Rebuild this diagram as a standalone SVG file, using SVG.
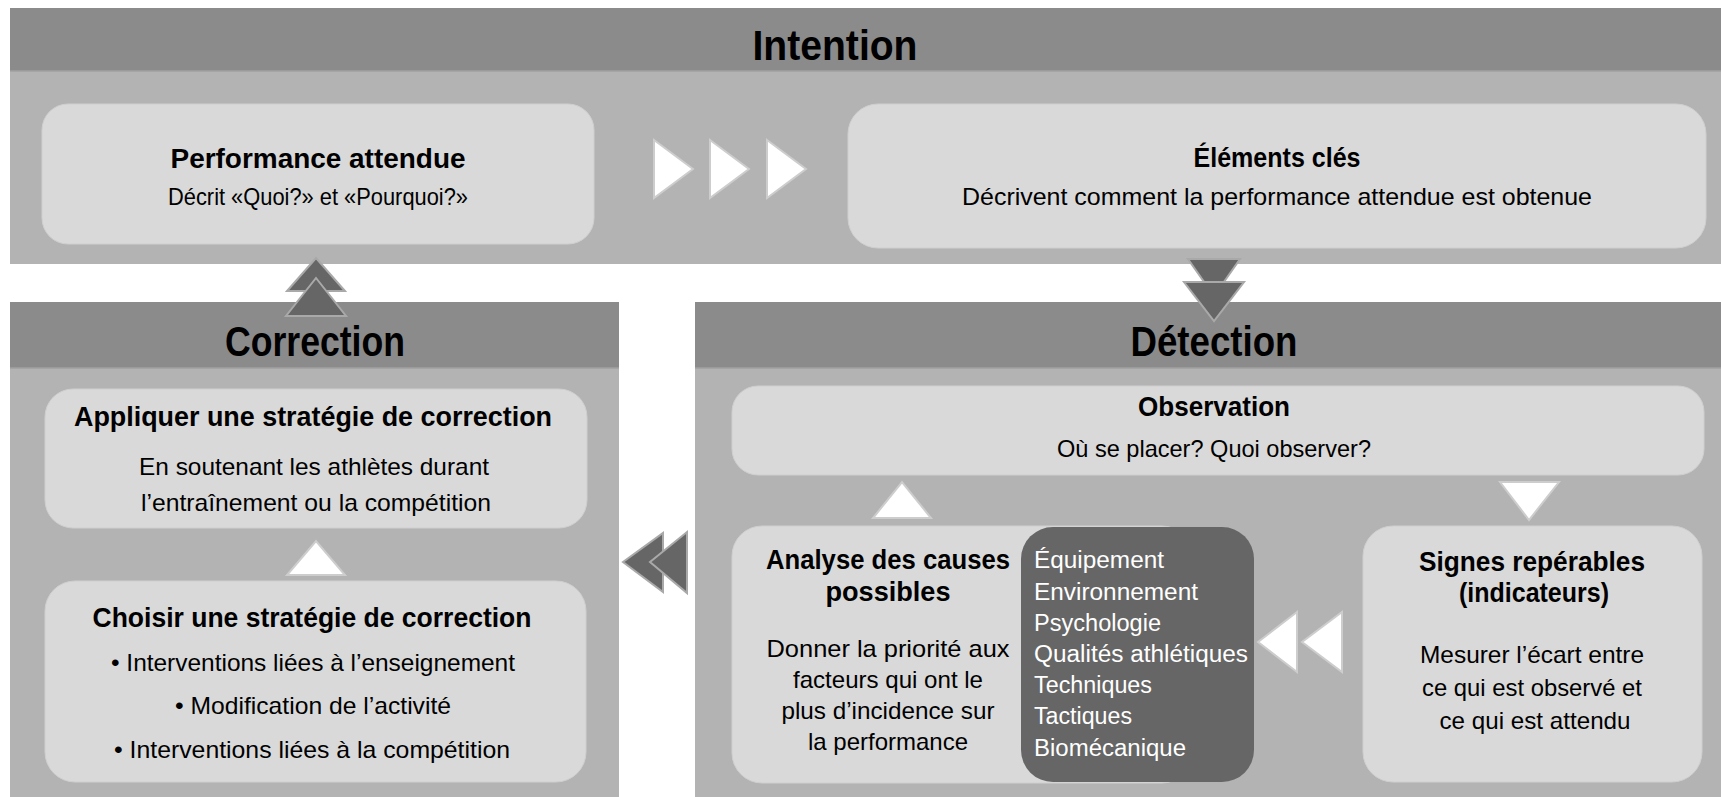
<svg xmlns="http://www.w3.org/2000/svg" width="1721" height="797" viewBox="0 0 1721 797">
<style>
.hdr{fill:#8b8b8b}
.body{fill:#b3b3b3}
.edge{fill:none;stroke:#c9c9c9;stroke-width:1.5}
.box{fill:#d9d9d9;stroke:#cfcfcf;stroke-width:1}
.dark{fill:#666666}
.t{font-family:"Liberation Sans Narrow","Liberation Sans",Arial,sans-serif;fill:#000;text-anchor:middle}
.h{font-size:42px;font-weight:bold}
.ti{font-size:27px;font-weight:bold}
.b{font-size:24px}
.l{font-family:"Liberation Sans Narrow","Liberation Sans",Arial,sans-serif;font-size:23px;fill:#fff}
.wa{fill:#fff;stroke:#cdcdcd;stroke-width:2;stroke-linejoin:miter}
.da{fill:#666;stroke:#a9a9a9;stroke-width:2;stroke-linejoin:miter}
</style>
<rect width="1721" height="797" fill="#fff"/>

<g id="panel-intention">
<rect class="body" x="10" y="8" width="1711" height="256"/>
<rect class="hdr" x="10" y="8" width="1711" height="63"/>
<line x1="10" y1="71" x2="1721" y2="71" stroke="#a0a0a0" stroke-width="1.5"/>
<text class="t h" x="835" y="60" textLength="165" lengthAdjust="spacingAndGlyphs">Intention</text>
</g>

<g id="panel-correction">
<rect class="body" x="10" y="302" width="609" height="495"/>
<rect class="hdr" x="10" y="302" width="609" height="66"/>
<line x1="10" y1="368" x2="619" y2="368" stroke="#a0a0a0" stroke-width="1.5"/>
<text class="t h" x="315" y="356" textLength="180" lengthAdjust="spacingAndGlyphs">Correction</text>
</g>

<g id="panel-detection">
<rect class="body" x="695" y="302" width="1026" height="495"/>
<rect class="hdr" x="695" y="302" width="1026" height="66"/>
<line x1="695" y1="368" x2="1721" y2="368" stroke="#a0a0a0" stroke-width="1.5"/>
<text class="t h" x="1214" y="356" textLength="167" lengthAdjust="spacingAndGlyphs">Détection</text>
</g>

<g id="node-performance">
<rect class="box" x="42" y="104" width="552" height="140" rx="26"/>
<text class="t ti" x="318" y="168" textLength="295" lengthAdjust="spacingAndGlyphs">Performance attendue</text>
<text class="t b" x="318" y="205" textLength="300" lengthAdjust="spacingAndGlyphs">Décrit «Quoi?» et «Pourquoi?»</text>
</g>

<g id="node-elements">
<rect class="box" x="848" y="104" width="858" height="144" rx="30"/>
<text class="t ti" x="1277" y="167" textLength="167" lengthAdjust="spacingAndGlyphs">Éléments clés</text>
<text class="t b" x="1277" y="205" textLength="630" lengthAdjust="spacingAndGlyphs">Décrivent comment la performance attendue est obtenue</text>
</g>

<g id="node-appliquer">
<rect class="box" x="45" y="389" width="542" height="139" rx="28"/>
<text class="t ti" x="313" y="426" textLength="478" lengthAdjust="spacingAndGlyphs">Appliquer une stratégie de correction</text>
<text class="t b" x="314" y="475" textLength="350" lengthAdjust="spacingAndGlyphs">En soutenant les athlètes durant</text>
<text class="t b" x="316" y="511" textLength="350" lengthAdjust="spacingAndGlyphs">l’entraînement ou la compétition</text>
</g>

<g id="node-choisir">
<rect class="box" x="45" y="581" width="541" height="201" rx="30"/>
<text class="t ti" x="312" y="627" textLength="439" lengthAdjust="spacingAndGlyphs">Choisir une stratégie de correction</text>
<text class="t b" x="313" y="671" textLength="404" lengthAdjust="spacingAndGlyphs">• Interventions liées à l’enseignement</text>
<text class="t b" x="313" y="714" textLength="276" lengthAdjust="spacingAndGlyphs">• Modification de l’activité</text>
<text class="t b" x="312" y="758" textLength="396" lengthAdjust="spacingAndGlyphs">• Interventions liées à la compétition</text>
</g>

<g id="node-observation">
<rect class="box" x="732" y="386" width="972" height="89" rx="26"/>
<text class="t ti" x="1214" y="416" textLength="152" lengthAdjust="spacingAndGlyphs">Observation</text>
<text class="t b" x="1214" y="457" textLength="314" lengthAdjust="spacingAndGlyphs">Où se placer? Quoi observer?</text>
</g>

<g id="node-analyse">
<rect class="box" x="732" y="526" width="460" height="257" rx="30"/>
<text class="t ti" x="888" y="569" textLength="244" lengthAdjust="spacingAndGlyphs">Analyse des causes</text>
<text class="t ti" x="888" y="601" textLength="125" lengthAdjust="spacingAndGlyphs">possibles</text>
<text class="t b" x="888" y="657" textLength="243" lengthAdjust="spacingAndGlyphs">Donner la priorité aux</text>
<text class="t b" x="888" y="688" textLength="190" lengthAdjust="spacingAndGlyphs">facteurs qui ont le</text>
<text class="t b" x="888" y="719" textLength="213" lengthAdjust="spacingAndGlyphs">plus d’incidence sur</text>
<text class="t b" x="888" y="750" textLength="160" lengthAdjust="spacingAndGlyphs">la performance</text>
</g>

<g id="node-facteurs">
<rect class="dark" x="1021" y="527" width="233" height="255" rx="32"/>
<text class="l" x="1034" y="568" textLength="130" lengthAdjust="spacingAndGlyphs">Équipement</text>
<text class="l" x="1034" y="600" textLength="164" lengthAdjust="spacingAndGlyphs">Environnement</text>
<text class="l" x="1034" y="631" textLength="127" lengthAdjust="spacingAndGlyphs">Psychologie</text>
<text class="l" x="1034" y="662" textLength="214" lengthAdjust="spacingAndGlyphs">Qualités athlétiques</text>
<text class="l" x="1034" y="693" textLength="118" lengthAdjust="spacingAndGlyphs">Techniques</text>
<text class="l" x="1034" y="724" textLength="98" lengthAdjust="spacingAndGlyphs">Tactiques</text>
<text class="l" x="1034" y="756" textLength="152" lengthAdjust="spacingAndGlyphs">Biomécanique</text>
</g>

<g id="node-signes">
<rect class="box" x="1363" y="526" width="339" height="256" rx="30"/>
<text class="t ti" x="1532" y="571" textLength="226" lengthAdjust="spacingAndGlyphs">Signes repérables</text>
<text class="t ti" x="1534" y="602" textLength="150" lengthAdjust="spacingAndGlyphs">(indicateurs)</text>
<text class="t b" x="1532" y="663" textLength="224" lengthAdjust="spacingAndGlyphs">Mesurer l’écart entre</text>
<text class="t b" x="1532" y="696" textLength="220" lengthAdjust="spacingAndGlyphs">ce qui est observé et</text>
<text class="t b" x="1535" y="729" textLength="191" lengthAdjust="spacingAndGlyphs">ce qui est attendu</text>
</g>

<g id="connectors">
<!-- Performance -> Elements -->
<polygon class="wa" points="654,140 693,169 654,198"/>
<polygon class="wa" points="710,140 749,169 710,198"/>
<polygon class="wa" points="767,140 806,169 767,198"/>
<!-- Intention -> Detection -->
<polygon class="da" points="1188,259 1240,259 1214,296"/>
<polygon class="da" points="1184,282 1244,282 1214,321"/>
<!-- Correction -> Intention -->
<polygon class="da" points="287,291 345,291 316,258"/>
<polygon class="da" points="286,316 346,316 316,278"/>
<!-- Choisir -> Appliquer -->
<polygon class="wa" points="287,575 345,575 316,541"/>
<!-- Analyse -> Observation -->
<polygon class="wa" points="873,518 931,518 902,482"/>
<!-- Observation -> Signes -->
<polygon class="wa" points="1500,482 1559,482 1529,520"/>
<!-- Signes -> Analyse -->
<polygon class="wa" points="1297,612 1297,672 1258,642"/>
<polygon class="wa" points="1342,612 1342,672 1302,642"/>
<!-- Detection -> Correction -->
<polygon class="da" points="663,533 663,592 623,562"/>
<polygon class="da" points="687,532 687,593 650,562"/>
</g>
</svg>
